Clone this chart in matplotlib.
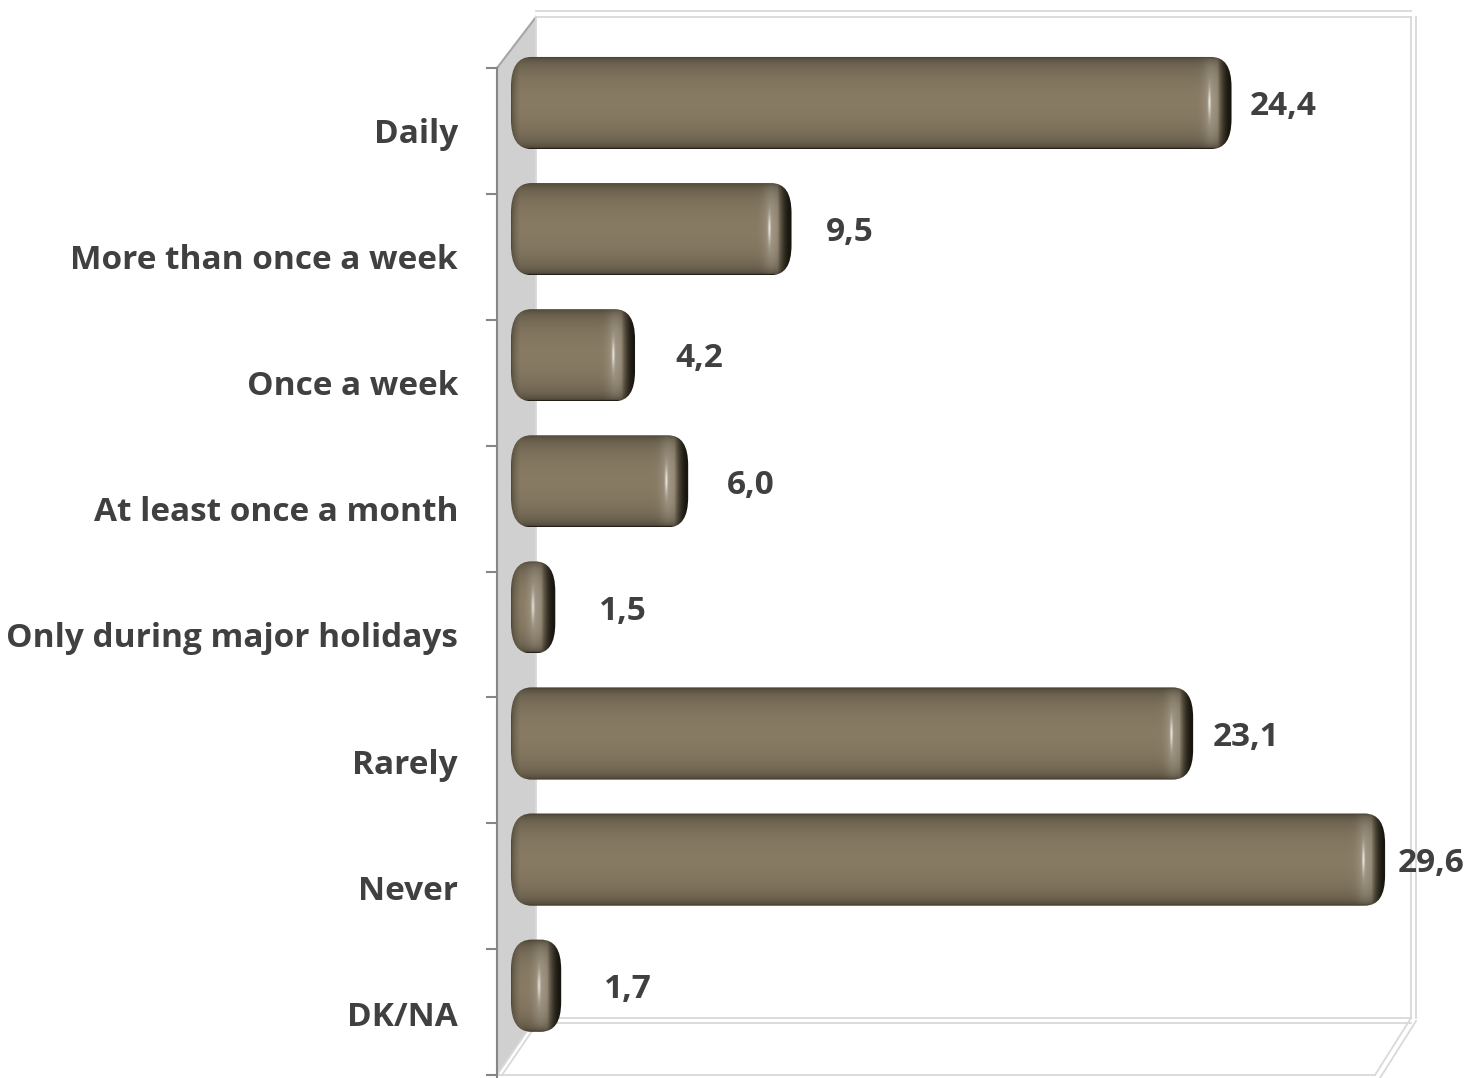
import numpy as np
import matplotlib.pyplot as plt
from matplotlib.patches import FancyBboxPatch, Polygon

categories = ["Daily", "More than once a week", "Once a week", "At least once a month",
              "Only during major holidays", "Rarely", "Never", "DK/NA"]
values = [24.4, 9.5, 4.2, 6.0, 1.5, 23.1, 29.6, 1.7]
value_labels = ["24,4", "9,5", "4,2", "6,0", "1,5", "23,1", "29,6", "1,7"]

px_x = 29.53   # pixels per value unit
px_y = 126.1   # pixels per category

fig = plt.figure(figsize=(14.7, 10.78), dpi=100)
ax = fig.add_axes([0, 0, 1, 1])
ax.axis('off')

# 3d box corners (value units / category units)
fx0, fx1 = -14 / px_x, 864 / px_x
bx0, bx1 = 25 / px_x, 900 / px_x
fy0, fy1 = -35 / px_y, 972 / px_y
by0, by1 = -86 / px_y, 915 / px_y

grid_c = '#D9D9D9'


def dbl(xs, ys, dx=0, dy=0):
    # excel draws the 3d walls with a double line
    ax.plot(xs, ys, color=grid_c, lw=1.3)
    ax.plot(np.array(xs) + dx / px_x, np.array(ys) + dy / px_y, color=grid_c, lw=1.3)


# side wall
ax.add_patch(Polygon([(fx0, fy0), (bx0, by0), (bx0, by1), (fx0, fy1)],
                     closed=True, facecolor='#D0D0D0', edgecolor='none'))
ax.plot([fx0, bx0], [fy0, by0], color='#A6A6A6', lw=1.5)
# back wall
dbl([bx0, bx1], [by0, by0], dy=-6)
dbl([bx1, bx1], [by0, by1], dx=5)
ax.plot([bx0, bx0], [by0, by1], color=grid_c, lw=1.3)
# floor
dbl([bx0, bx1], [by1, by1], dy=5)
dbl([bx1, fx1], [by1, fy1], dx=5, dy=3)
dbl([fx0, bx0], [fy1, by1], dx=5)
ax.plot([fx0, fx1], [fy1, fy1], color=grid_c, lw=1.3)
# category axis
ax.plot([fx0, fx0], [fy0, fy1 + 0.05], color='#868686', lw=1.5)
for k in range(len(categories) + 1):
    ty = fy0 + k * (fy1 - fy0) / len(categories)
    ax.plot([fx0 - 10 / px_x, fx0], [ty, ty], color='#868686', lw=1.5)

c_mid = np.array([0.53, 0.48, 0.39])
c_dark = np.array([0.10, 0.09, 0.06])
h = 0.73
for i, v in enumerate(values):
    patch = FancyBboxPatch((0, i - h / 2), v, h,
                           boxstyle="round,pad=0,rounding_size=0.68",
                           mutation_aspect=0.35, facecolor='none', edgecolor='none')
    ax.add_patch(patch)
    nx = max(int(v * px_x), 4)
    ny = 92
    t = np.linspace(-1, 1, ny)
    s = np.sqrt(np.clip(1 - t ** 2, 0, 1))
    vb = 0.10 + 0.90 * s ** 0.55
    img = c_dark[None, None, :] + (c_mid - c_dark)[None, None, :] * vb[:, None, None]
    img = np.repeat(img, nx, axis=1)
    xr = np.arange(nx)[::-1].astype(float)
    xl = np.arange(nx).astype(float)
    # lighter band before the cap
    band = np.exp(-((xr - 20) / 8) ** 2) * 0.2
    img = img + (1 - img) * band[None, :, None] * s[:, None, None]
    # highlight streak
    hl = np.exp(-((xr - 22) / 1.3) ** 2)[None, :] * np.exp(-(t / 0.3) ** 2)[:, None] * 0.75
    img = img + (1 - img) * hl[:, :, None]
    # dark cap edge on the right, dark rim on the left
    dr = np.clip((xr - 2) / 12, 0, 1) ** 1.6
    dl = np.clip(xl / 9, 0, 1) ** 0.5 * 0.5 + 0.5
    d = (dr * dl)[None, :, None]
    img = c_dark + (img - c_dark) * d
    im = ax.imshow(np.clip(img, 0, 1), extent=[0, v, i + h / 2, i - h / 2],
                   aspect='auto', interpolation='bilinear', zorder=3)
    im.set_clip_path(patch)

    ax.text(v + (45 - 1.1 * v) / px_x, i + 0.03, value_labels[i], ha='left', va='center',
            fontsize=24, fontweight='bold', color='#404040', family='Open Sans', zorder=4)
    ax.text(-53 / px_x, i + 0.25, categories[i], ha='right', va='center',
            fontsize=24, fontweight='bold', color='#404040', family='Open Sans')

ax.set_xlim(-511 / px_x, 959 / px_x)
ax.set_ylim(975 / px_y, -103 / px_y)
fig.savefig('out.png', dpi=100)
